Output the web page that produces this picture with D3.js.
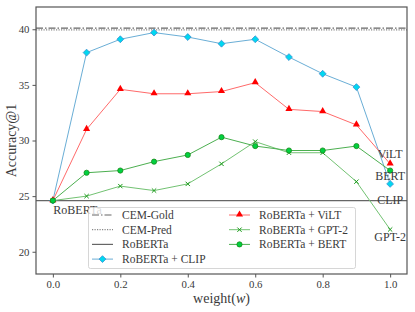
<!DOCTYPE html>
<html>
<head>
<style>
html, body { margin: 0; padding: 0; background: #fff; }
text { font-family: "Liberation Serif", "DejaVu Serif", serif; fill: #3a3a3a; }
</style>
</head>
<body>
<svg id="chart" width="415" height="312"></svg>
<script src="https://cdn.jsdelivr.net/npm/d3@7/dist/d3.min.js"></script>
<script>
var weights = [0.0, 0.1, 0.2, 0.3, 0.4, 0.5, 0.6, 0.7, 0.8, 0.9, 1.0];
var clip = [24.6, 37.9, 39.1, 39.7, 39.3, 38.7, 39.1, 37.5, 36.0, 34.8, 26.1];
var vilt = [24.6, 31.0, 34.6, 34.2, 34.2, 34.4, 35.2, 32.8, 32.6, 31.4, 27.9];
var gpt2 = [24.6, 25.0, 25.9, 25.5, 26.1, 27.9, 29.9, 28.9, 28.9, 26.3, 22.0];
var bert = [24.6, 27.1, 27.3, 28.1, 28.7, 30.3, 29.5, 29.1, 29.1, 29.5, 27.3];
var cemGold = 40.1;
var cemPred = 39.95;
var roberta = 24.6;
var xTicks = [0.0, 0.2, 0.4, 0.6, 0.8, 1.0];
var yTicks = [20, 25, 30, 35, 40];

var svg = d3.select("#chart");
var m = {left: 36, right: 8, top: 7, bottom: 38};
var W = 415, H = 312;

var x = d3.scaleLinear().domain([-0.05, 1.05]).range([m.left, W - m.right]);
var y = d3.scaleLinear().domain([18, 42]).range([H - m.bottom, m.top]);

// reference lines
function hline(v, dash, color) {
    svg.append("line")
        .attr("x1", x.range()[0]).attr("x2", x.range()[1])
        .attr("y1", y(v)).attr("y2", y(v))
        .attr("stroke", color).attr("stroke-width", 1.2)
        .attr("stroke-dasharray", dash);
}
hline(cemGold, "7,2,1.5,2", "#666");
hline(cemPred, "1.2,1.3", "#888");
hline(roberta, null, "#666");

var series = [
    {name: "RoBERTa + CLIP", vals: clip, line: "#6aaed6", fill: "#00d8f0", edge: "#3a8fd0", shape: "diamond"},
    {name: "RoBERTa + ViLT", vals: vilt, line: "#ff6a6a", fill: "#ff0000", edge: "#ff0000", shape: "triangle"},
    {name: "RoBERTa + GPT-2", vals: gpt2, line: "#72c272", fill: "none", edge: "#1a9a1a", shape: "x"},
    {name: "RoBERTa + BERT", vals: bert, line: "#4caf50", fill: "#00d040", edge: "#1a8a1a", shape: "circle"}
];

var line = d3.line().x(function(d){ return x(d[0]); }).y(function(d){ return y(d[1]); });

function marker(g, s, cx, cy) {
    if (s.shape == "diamond") {
        g.append("path").attr("d", d3.symbol(d3.symbolDiamond2, 30)())
            .attr("transform", "translate(" + cx + "," + cy + ")")
            .attr("fill", s.fill).attr("stroke", s.edge).attr("stroke-width", 0.8);
    } else if (s.shape == "triangle") {
        g.append("path").attr("d", d3.symbol(d3.symbolTriangle, 22)())
            .attr("transform", "translate(" + cx + "," + (cy - 0.5) + ")")
            .attr("fill", s.fill);
    } else if (s.shape == "x") {
        g.append("path").attr("d", d3.symbol(d3.symbolTimes, 14)())
            .attr("transform", "translate(" + cx + "," + cy + ")")
            .attr("fill", "none").attr("stroke", s.edge).attr("stroke-width", 1);
    } else {
        g.append("circle").attr("cx", cx).attr("cy", cy).attr("r", 2.6)
            .attr("fill", s.fill).attr("stroke", s.edge).attr("stroke-width", 0.8);
    }
}

series.forEach(function(s){
    var pts = weights.map(function(w, i){ return [w, s.vals[i]]; });
    svg.append("path").datum(pts)
        .attr("d", line).attr("fill", "none")
        .attr("stroke", s.line).attr("stroke-width", 1);
    var g = svg.append("g");
    pts.forEach(function(p){ marker(g, s, x(p[0]), y(p[1])); });
});

// annotations
svg.append("text").attr("x", x(0) + 0.5).attr("y", y(roberta) + 13.5)
    .attr("font-size", 12).text("RoBERTa");
var ends = [["ViLT", vilt[10], -6], ["BERT", bert[10], 9.5], ["CLIP", clip[10], 20], ["GPT-2", gpt2[10], 11.5]];
ends.forEach(function(e){
    svg.append("text").attr("x", x(1.0)).attr("y", y(e[1]) + e[2])
        .attr("text-anchor", "middle").attr("font-size", 12).text(e[0]);
});

// legend
var lg = svg.append("g");
lg.append("rect").attr("x", 88.5).attr("y", 207.5).attr("width", 267).attr("height", 61)
    .attr("rx", 2).attr("fill", "#fff").attr("fill-opacity", 0.8)
    .attr("stroke", "#ccc").attr("stroke-width", 0.8);
var legendItems = [
    {name: "CEM-Gold", col: 0, row: 0, dash: "7,2,1.5,2", color: "#666"},
    {name: "CEM-Pred", col: 0, row: 1, dash: "1.2,1.3", color: "#888"},
    {name: "RoBERTa", col: 0, row: 2, dash: null, color: "#666"},
    {name: series[0].name, col: 0, row: 3, s: series[0]},
    {name: series[1].name, col: 1, row: 0, s: series[1]},
    {name: series[2].name, col: 1, row: 1, s: series[2]},
    {name: series[3].name, col: 1, row: 2, s: series[3]}
];
legendItems.forEach(function(d){
    var x0 = d.col == 0 ? 92 : 229;
    var yy = 215 + d.row * 14.7;
    lg.append("line").attr("x1", x0).attr("x2", x0 + 21).attr("y1", yy).attr("y2", yy)
        .attr("stroke", d.s ? d.s.line : d.color).attr("stroke-width", d.s ? 1 : 1.2)
        .attr("stroke-dasharray", d.dash || null);
    if (d.s) marker(lg, d.s, x0 + 10.5, yy);
    lg.append("text").attr("x", x0 + 30).attr("y", yy + 4)
        .attr("font-size", 11.5).text(d.name);
});

// frame and axes
svg.append("rect").attr("x", m.left).attr("y", m.top)
    .attr("width", W - m.left - m.right).attr("height", H - m.top - m.bottom)
    .attr("fill", "none").attr("stroke", "#555").attr("stroke-width", 1.2);

var xAxis = svg.append("g").attr("transform", "translate(0," + (H - m.bottom) + ")")
    .call(d3.axisBottom(x).tickValues(xTicks).tickFormat(d3.format(".1f")).tickSize(3.5).tickPadding(3));
var yAxis = svg.append("g").attr("transform", "translate(" + m.left + ",0)")
    .call(d3.axisLeft(y).tickValues(yTicks).tickSize(3.5).tickPadding(3));
[xAxis, yAxis].forEach(function(a){
    a.select(".domain").remove();
    a.selectAll(".tick line").attr("stroke", "#555");
    a.selectAll("text").attr("font-size", 10.8).attr("font-family", "Liberation Serif").attr("fill", "#3a3a3a");
});

var xl = svg.append("text").attr("x", (m.left + W - m.right) / 2).attr("y", 303)
    .attr("text-anchor", "middle").attr("font-size", 14);
xl.append("tspan").text("weight(");
xl.append("tspan").attr("font-style", "italic").text("w");
xl.append("tspan").text(")");

svg.append("text").attr("transform", "translate(16," + ((m.top + H - m.bottom) / 2) + ") rotate(-90)")
    .attr("text-anchor", "middle").attr("font-size", 14).text("Accuracy@1");
</script>
</body>
</html>
